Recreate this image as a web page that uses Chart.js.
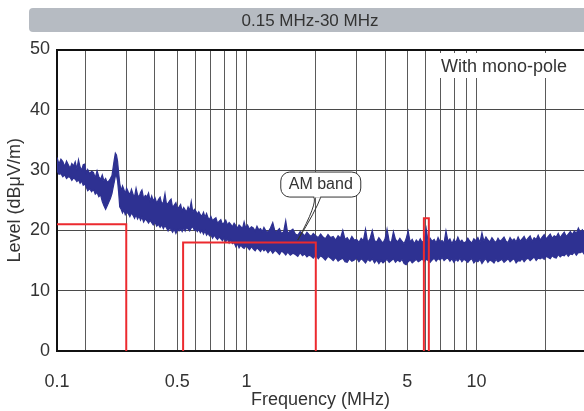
<!DOCTYPE html>
<html>
<head>
<meta charset="utf-8">
<script src="https://cdn.jsdelivr.net/npm/chart.js@4.4.1/dist/chart.umd.min.js"></script>
<style>
  html, body { margin: 0; padding: 0; background: #fff; }
  #wrap { width: 584px; height: 411px; position: relative; }
</style>
</head>
<body>
<div id="wrap"><canvas id="emiChart"></canvas></div>
<script>
"use strict";

const freqMHz = [
  0.150, 0.153, 0.156, 0.159, 0.162, 0.165, 0.168, 0.171, 0.174, 0.177,
  0.180, 0.183, 0.186, 0.189, 0.192, 0.195, 0.198, 0.201, 0.204, 0.208,
  0.212, 0.216, 0.220, 0.224, 0.228, 0.232, 0.236, 0.240, 0.244, 0.248,
  0.252, 0.256, 0.260, 0.263, 0.266, 0.269, 0.272, 0.275, 0.278, 0.281,
  0.285, 0.289, 0.293, 0.297, 0.301, 0.306, 0.311, 0.316, 0.321, 0.326,
  0.331, 0.336, 0.341, 0.346, 0.351, 0.357, 0.363, 0.369, 0.375, 0.381,
  0.387, 0.393, 0.400, 0.407, 0.414, 0.421, 0.428, 0.435, 0.442, 0.449,
  0.456, 0.463, 0.470, 0.477, 0.485, 0.493, 0.501, 0.509, 0.517, 0.525,
  0.533, 0.541, 0.549, 0.557, 0.566, 0.575, 0.584, 0.593, 0.602, 0.611,
  0.620, 0.630, 0.640, 0.650, 0.660, 0.670, 0.680, 0.690, 0.700, 0.712,
  0.724, 0.736, 0.748, 0.760, 0.773, 0.786, 0.799, 0.812, 0.826, 0.840,
  0.854, 0.868, 0.883, 0.898, 0.913, 0.928, 0.944, 0.960, 0.976, 0.992,
  1.01, 1.03, 1.05, 1.07, 1.09, 1.11, 1.13, 1.15, 1.17, 1.19,
  1.21, 1.24, 1.27, 1.30, 1.33, 1.36, 1.39, 1.42, 1.45, 1.48,
  1.51, 1.55, 1.59, 1.63, 1.67, 1.71, 1.75, 1.79, 1.83, 1.87,
  1.91, 1.95, 2.00, 2.05, 2.10, 2.15, 2.20, 2.26, 2.32, 2.38,
  2.44, 2.50, 2.56, 2.62, 2.68, 2.74, 2.80, 2.87, 2.94, 3.01,
  3.08, 3.15, 3.22, 3.29, 3.36, 3.44, 3.52, 3.60, 3.68, 3.76,
  3.84, 3.92, 4.00, 4.08, 4.17, 4.26, 4.35, 4.44, 4.54, 4.64,
  4.74, 4.84, 4.94, 5.04, 5.14, 5.25, 5.36, 5.47, 5.58, 5.69,
  5.80, 5.92, 6.04, 6.16, 6.28, 6.41, 6.54, 6.67, 6.80, 6.94,
  7.08, 7.22, 7.36, 7.51, 7.66, 7.81, 7.97, 8.13, 8.29, 8.46,
  8.63, 8.80, 8.98, 9.16, 9.35, 9.54, 9.73, 9.93, 10.13, 10.34,
  10.55, 10.76, 10.98, 11.2, 11.43, 11.66, 11.9, 12.14, 12.39, 12.64,
  12.9, 13.16, 13.43, 13.7, 13.98, 14.26, 14.55, 14.85, 15.15, 15.46,
  15.77, 16.09, 16.42, 16.75, 17.09, 17.44, 17.79, 18.15, 18.52, 18.9,
  19.28, 19.67, 20.07, 20.48, 20.9, 21.32, 21.75, 22.19, 22.64, 23.1,
  23.57, 24.05, 24.54, 25.04, 25.55, 26.07, 26.6, 27.14, 27.69, 28.25,
  28.82, 29.4,
];

// upper edge of the noise band
const levelHi = [
  32.1, 31.0, 31.8, 31.4, 30.6, 31.5, 30.9, 30.3, 31.1, 30.7,
  31.4, 30.2, 31.7, 30.5, 30.0, 30.9, 31.0, 29.5, 30.1, 29.4,
  29.8, 29.6, 28.7, 29.9, 28.9, 28.5, 29.2, 28.2, 28.6, 27.9,
  28.2, 28.6, 29.1, 30.4, 31.7, 32.8, 32.5, 31.5, 29.6, 27.8,
  26.6, 27.4, 26.8, 26.1, 27.0, 26.4, 25.9, 26.8, 26.0, 25.6,
  27.0, 25.9, 25.5, 26.3, 26.7, 25.3, 25.8, 25.6, 26.2, 24.9,
  25.7, 24.9, 25.4, 24.5, 25.1, 25.5, 24.4, 24.7, 26.1, 24.3,
  24.5, 24.9, 25.2, 23.8, 24.2, 24.6, 23.6, 23.9, 24.3, 23.2,
  23.8, 23.4, 23.1, 23.9, 23.3, 24.8, 23.0, 23.5, 23.2, 22.7,
  23.1, 22.6, 22.4, 23.0, 22.2, 22.8, 22.1, 21.8, 22.3, 21.6,
  21.9, 22.1, 21.2, 21.5, 21.8, 21.0, 21.3, 21.7, 20.9, 21.3,
  21.0, 20.6, 21.2, 20.8, 20.4, 20.9, 20.6, 20.3, 21.4, 20.4,
  20.9, 20.2, 20.6, 20.4, 19.9, 20.7, 20.1, 20.3, 19.8, 20.5,
  20.0, 19.7, 20.4, 21.3, 19.8, 19.9, 20.3, 19.5, 19.8, 21.6,
  19.5, 19.9, 20.2, 19.4, 19.2, 19.8, 19.5, 19.1, 19.7, 19.3,
  19.0, 19.5, 19.1, 18.8, 19.4, 18.9, 18.6, 19.3, 18.8, 19.0,
  18.4, 19.1, 18.7, 20.0, 18.5, 18.8, 18.2, 19.0, 18.4, 18.5,
  18.0, 18.7, 18.3, 20.2, 18.0, 18.6, 20.0, 18.3, 18.1, 18.8,
  18.3, 17.9, 18.6, 20.2, 18.2, 18.0, 19.8, 18.5, 18.1, 18.7,
  18.2, 17.8, 18.6, 19.9, 18.1, 18.5, 17.8, 18.4, 18.0, 18.6,
  18.0, 18.4, 20.3, 18.0, 18.7, 18.2, 18.5, 17.9, 18.8, 18.1,
  18.3, 17.9, 19.9, 18.2, 18.6, 17.8, 18.5, 18.0, 18.9, 18.1,
  18.4, 17.9, 18.1, 18.7, 18.2, 17.9, 18.6, 18.3, 18.8, 18.0,
  19.6, 18.2, 18.9, 18.4, 18.1, 18.8, 18.3, 18.0, 18.7, 18.2,
  18.5, 18.9, 18.2, 18.0, 18.8, 18.3, 18.6, 18.1, 18.9, 18.2,
  18.6, 19.0, 18.3, 18.7, 19.1, 18.2, 18.8, 18.5, 19.2, 18.4,
  18.9, 19.3, 18.6, 19.0, 19.4, 18.7, 19.1, 18.9, 19.5, 18.8,
  19.3, 19.7, 19.0, 19.4, 19.8, 19.3, 19.9, 19.5, 20.4, 19.7,
  20.1, 19.6,
];

// lower edge of the noise band
const levelLo = [
  29.9, 29.3, 29.4, 28.9, 29.2, 28.6, 28.9, 28.8, 28.3, 28.7,
  28.5, 28.1, 28.4, 27.8, 28.2, 27.5, 27.7, 27.2, 26.6, 26.9,
  26.4, 26.8, 26.0, 26.3, 25.6, 25.9, 24.8, 24.1, 23.5, 24.1,
  24.7, 25.3, 26.1, 27.1, 28.0, 29.0, 29.1, 28.2, 26.3, 23.9,
  23.5, 22.9, 23.4, 22.6, 23.0, 22.8, 22.3, 22.9, 22.5, 22.0,
  22.6, 21.9, 22.4, 21.7, 22.2, 21.4, 21.9, 21.6, 21.2, 21.7,
  21.3, 20.9, 21.4, 20.7, 21.0, 20.5, 20.9, 20.3, 20.8, 20.4,
  19.9, 20.4, 20.1, 19.7, 20.2, 19.5, 20.1, 19.9, 20.3, 19.8,
  20.4, 19.9, 20.5, 20.2, 19.9, 20.4, 20.6, 20.0, 20.2, 19.8,
  20.2, 19.6, 20.0, 19.4, 19.9, 19.2, 19.6, 19.1, 19.3, 18.7,
  19.2, 18.8, 18.5, 18.9, 18.6, 18.3, 18.8, 18.1, 18.6, 17.9,
  18.4, 17.8, 18.0, 17.3, 17.8, 17.1, 17.6, 17.2, 17.0, 17.4,
  17.2, 16.8, 17.3, 16.9, 16.6, 17.1, 16.8, 16.5, 17.0, 16.6,
  16.9, 16.3, 16.8, 16.2, 16.7, 16.4, 16.0, 16.6, 16.3, 15.9,
  16.4, 15.9, 16.2, 16.0, 15.7, 16.3, 15.8, 16.1, 15.6, 15.9,
  15.7, 15.4, 15.9, 15.3, 15.8, 15.5, 15.1, 15.7, 15.4, 15.0,
  15.5, 14.9, 15.2, 15.4, 14.8, 14.7, 15.3, 14.9, 15.1, 15.4,
  14.8, 15.3, 15.0, 14.6, 15.2, 14.9, 15.3, 14.6, 15.1, 14.5,
  15.0, 14.6, 14.9, 15.2, 14.7, 15.0, 15.3, 14.7, 15.1, 14.8,
  15.2, 14.5, 14.3, 14.8, 15.1, 14.6, 14.9, 15.2, 14.8, 15.0,
  15.3, 14.8, 15.2, 15.0, 14.7, 15.1, 15.4, 14.9, 15.3, 15.1,
  15.5, 15.0, 15.3, 15.4, 14.9, 15.3, 14.7, 15.2, 14.9, 15.4,
  14.8, 15.2, 15.0, 14.7, 15.1, 15.3, 14.6, 15.0, 14.8, 15.2,
  14.5, 15.0, 15.3, 14.7, 15.1, 14.9, 14.6, 15.2, 14.8, 15.0,
  15.2, 14.7, 15.0, 15.3, 14.8, 15.1, 15.3, 14.6, 15.0, 14.9,
  15.3, 14.8, 15.2, 15.4, 15.0, 15.3, 15.6, 15.0, 15.4, 15.3,
  15.5, 15.2, 15.7, 15.5, 15.3, 15.8, 15.5, 15.4, 16.0, 15.6,
  15.9, 15.8, 16.2, 15.7, 16.1, 16.0, 16.4, 15.9, 16.3, 16.3,
  16.5, 16.0,
];

// ── Red limit outlines ──
const limitLowF  = [0.15, 0.3, 0.3];
const limitLowL  = [21, 21, 0];
const limitAmF   = [0.53, 0.53, 2.0, 2.0];
const limitAmL   = [0, 18, 18, 0];
const limitSwF   = [5.9, 5.9, 6.2, 6.2];
const limitSwL   = [0, 22, 22, 0];

// ── Axis ticks ──
const gridFreqs  = [0.15, 0.2, 0.3, 0.4, 0.5, 0.6, 0.7, 0.8, 0.9, 1,
                    2, 3, 4, 5, 6, 7, 8, 9, 10, 20];
const labelFreqs = [0.15, 0.5, 1, 5, 10];
const labelTexts = ["0.1", "0.5", "1", "5", "10"];
const levelTicks = [0, 10, 20, 30, 40, 50];

const bannerText  = "0.15 MHz-30 MHz";
const noteText    = "With mono-pole";
const calloutText = "AM band";

// ── Styles ──
const BLUE = "#2e3192";
const RED  = "#ec2a2f";
const TEXT = "#333";
const FONT = "'Liberation Sans', Arial, sans-serif";

const pts = (xs, ys) => xs.map((x, i) => ({ x, y: ys[i] }));

// ── Banner, note box and AM band callout ──
const overlayPlugin = {
  id: "overlay",
  beforeDraw(chart) {
    const { ctx } = chart;
    ctx.save();
    ctx.fillStyle = "#b6bbc2";
    ctx.beginPath();
    ctx.roundRect(29, 8, 580, 24, 4);
    ctx.fill();
    ctx.fillStyle = TEXT;
    ctx.font = "17px " + FONT;
    ctx.textAlign = "center";
    ctx.textBaseline = "middle";
    ctx.fillText(bannerText, 310, 21);
    ctx.restore();
  },
  afterDraw(chart) {
    const { ctx, chartArea: ca, scales: { x, y } } = chart;
    ctx.save();

    // "With mono-pole" on a white patch
    ctx.fillStyle = "#fff";
    ctx.fillRect(ca.right - 152, ca.top + 3.5, 152, 25);
    ctx.fillStyle = TEXT;
    ctx.font = "18px " + FONT;
    ctx.textAlign = "left";
    ctx.textBaseline = "middle";
    ctx.fillText(noteText, ca.right - 143, ca.top + 17.5);

    // callout pointing at the AM band trace
    const tipX = x.getPixelForValue(1.67);
    const tipY = y.getPixelForValue(18.4);
    const bx = tipX - 17, by = tipY - 68, bw = 80, bh = 25;
    ctx.beginPath();
    ctx.roundRect(bx, by, bw, bh, 9);
    ctx.fillStyle = "#fff";
    ctx.fill();
    ctx.strokeStyle = "#333";
    ctx.lineWidth = 1;
    ctx.stroke();
    // tail
    ctx.beginPath();
    ctx.moveTo(bx + 33, by + bh);
    ctx.quadraticCurveTo(bx + 37, by + bh + 6, tipX, tipY);
    ctx.moveTo(bx + 40, by + bh);
    ctx.quadraticCurveTo(bx + 35, by + bh + 14, tipX, tipY);
    ctx.stroke();
    ctx.fillStyle = "#fff";
    ctx.fillRect(bx + 33.5, by + bh - 1.5, 6, 2);
    ctx.fillStyle = TEXT;
    ctx.font = "16px " + FONT;
    ctx.textAlign = "center";
    ctx.fillText(calloutText, bx + bw / 2, by + bh / 2 + 0.5);
    ctx.restore();
  },
};

const limitSet = (xs, ys) => ({
  data: pts(xs, ys),
  borderColor: RED,
  borderWidth: 2,
  pointRadius: 0,
  fill: false,
  order: 0,
});

new Chart(document.getElementById("emiChart"), {
  type: "line",
  data: {
    datasets: [
      limitSet(limitLowF, limitLowL),
      limitSet(limitAmF, limitAmL),
      limitSet(limitSwF, limitSwL),
      {
        data: pts(freqMHz, levelLo),
        borderColor: BLUE,
        borderWidth: 1.2,
        pointRadius: 0,
        fill: false,
        order: 1,
      },
      {
        data: pts(freqMHz, levelHi),
        borderColor: BLUE,
        backgroundColor: BLUE,
        borderWidth: 1.2,
        pointRadius: 0,
        fill: "-1",
        order: 1,
      },
    ],
  },
  options: {
    responsive: true,
    maintainAspectRatio: false,
    animation: false,
    layout: { padding: { top: 49.5, right: 0, bottom: 0, left: 0 } },
    plugins: {
      legend: { display: false },
      tooltip: { enabled: false },
    },
    scales: {
      x: {
        type: "logarithmic",
        min: 0.15,
        max: 29.3,
        afterBuildTicks: (s) => { s.ticks = gridFreqs.map((v) => ({ value: v })); },
        afterFit: (s) => { s.height = 60; },
        ticks: {
          autoSkip: false,
          maxRotation: 0,
          padding: 20,
          color: TEXT,
          font: { family: FONT, size: 18 },
          callback: (v) => {
            const i = labelFreqs.indexOf(v);
            return i < 0 ? "" : labelTexts[i];
          },
        },
        grid: {
          drawTicks: false,
          color: "#5a5a5a",
          lineWidth: 1,
        },
        border: { color: "#111", width: 2 },
        title: {
          display: true,
          text: "Frequency (MHz)",
          color: TEXT,
          font: { family: FONT, size: 18 },
          padding: { top: 0, bottom: 0 },
        },
      },
      y: {
        min: 0,
        max: 50,
        afterBuildTicks: (s) => { s.ticks = levelTicks.map((v) => ({ value: v })); },
        afterFit: (s) => { s.width = 57; },
        ticks: {
          padding: 7,
          color: TEXT,
          font: { family: FONT, size: 18 },
        },
        grid: {
          drawTicks: false,
          color: (c) => (c.tick && c.tick.value === 50 ? "#111" : "#4a4a4a"),
          lineWidth: (c) => (c.tick && c.tick.value === 50 ? 2 : 1),
        },
        border: { color: "#111", width: 2 },
        title: {
          display: true,
          text: "Level (dBμV/m)",
          color: TEXT,
          font: { family: FONT, size: 18 },
          padding: { top: 4, bottom: 0 },
        },
      },
    },
  },
  plugins: [overlayPlugin],
});
</script>
</body>
</html>
